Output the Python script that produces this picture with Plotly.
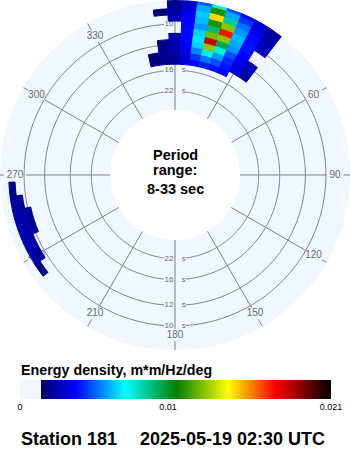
import math
import numpy as np
import plotly.graph_objects as go

# ---------------- data ----------------
period_range_s = [8, 33]                       # radial extent of the chart (seconds)
grid_periods_s = [10, 12, 16, 22]              # period rings
grid_period_labels = ["10", "12", "16", "22"]
spoke_directions = [0, 30, 60, 90, 120, 150, 180, 210, 240, 270, 300, 330]
spoke_labels = ["0", "30", "60", "90", "120", "150", "180", "210", "240", "270", "300", "330"]

freq_bin_width = 0.005     # Hz
dir_bin_width = 5          # degrees

# main swell system (north / north-east)
main_directions = [-10, -5, 0, 5, 10, 15, 20, 25, 30, 35]
main_freqs = [0.070, 0.075, 0.080, 0.085, 0.090, 0.095, 0.100, 0.105, 0.110, 0.115, 0.120]
main_energy = [
    [0.0018, 0.0020, 0.0022, 0.0030, 0.0038, 0.0042, 0.0040, 0.0037, 0.0000, 0.0000],
    [0.0017, 0.0021, 0.0024, 0.0031, 0.0045, 0.0053, 0.0048, 0.0040, 0.0032, 0.0024],
    [0.0000, 0.0020, 0.0025, 0.0035, 0.0055, 0.0075, 0.0058, 0.0043, 0.0034, 0.0026],
    [0.0000, 0.0019, 0.0026, 0.0037, 0.0065, 0.0125, 0.0075, 0.0048, 0.0037, 0.0027],
    [0.0000, 0.0000, 0.0025, 0.0039, 0.0068, 0.0180, 0.0095, 0.0057, 0.0038, 0.0000],
    [0.0000, 0.0000, 0.0000, 0.0039, 0.0065, 0.0122, 0.0125, 0.0060, 0.0040, 0.0000],
    [0.0000, 0.0000, 0.0000, 0.0038, 0.0058, 0.0090, 0.0170, 0.0062, 0.0040, 0.0028],
    [0.0000, 0.0000, 0.0026, 0.0037, 0.0062, 0.0110, 0.0125, 0.0058, 0.0039, 0.0027],
    [0.0000, 0.0017, 0.0025, 0.0035, 0.0064, 0.0145, 0.0085, 0.0053, 0.0036, 0.0025],
    [0.0000, 0.0000, 0.0022, 0.0030, 0.0060, 0.0110, 0.0060, 0.0045, 0.0032, 0.0023],
    [0.0000, 0.0000, 0.0020, 0.0027, 0.0050, 0.0075, 0.0048, 0.0038, 0.0029, 0.0021],
]

# small south-west system
sw_directions = [235, 240, 245, 250, 255, 260, 265]
sw_freqs = [0.100, 0.105, 0.110]
sw_energy = [
    [0.0000, 0.0000, 0.0000, 0.0022, 0.0021, 0.0000, 0.0000],
    [0.0000, 0.0022, 0.0025, 0.0026, 0.0025, 0.0022, 0.0000],
    [0.0019, 0.0024, 0.0026, 0.0026, 0.0025, 0.0023, 0.0019],
]

cb_min, cb_max = 0.0, 0.021
cb_tickvals = [0.0, 0.01, 0.021]
cb_ticktext = ["0", "0.01", "0.021"]

station = "Station 181"
timestamp = "2025-05-19 02:30 UTC"
colorbar_title = "Energy density, m*m/Hz/deg"
center_lines = ["Period", "range:", f"{period_range_s[0]}-{period_range_s[1]} sec"]

# ---------------- style / geometry ----------------
W, H = 350, 450
R = 175.0                 # canvas disc radius (px)
INNER_PX = 65.0           # inner hole radius (px)
REF_OUTER_PX = 181.7      # radius of the 8 s edge in the reference (px)
BG = "rgb(240,247,255)"
GRID = "#808080"
LABEL = "#6a6a6a"
FONT = "Liberation Sans, Arial, sans-serif"

f_in = 1.0 / period_range_s[1]
f_out = 1.0 / period_range_s[0]
px_per_hz = (REF_OUTER_PX - INNER_PX) / (f_out - f_in)
f_edge = f_in + (R - INNER_PX) / px_per_hz
hole = INNER_PX / R


def f_at_px(r):
    return f_in + (r - INNER_PX) / px_per_hz


def px_at_f(f):
    return INNER_PX + (f - f_in) * px_per_hz


colorscale = [
    [0.0, BG], [0.0675, BG],
    [0.0675, "rgb(0,0,100)"],
    [0.18, "rgb(0,0,255)"],
    [0.338, "rgb(0,255,255)"],
    [0.504, "rgb(0,128,0)"],
    [0.669, "rgb(255,255,0)"],
    [0.82, "rgb(255,0,0)"],
    [1.0, "rgb(0,0,0)"],
]

fig = go.Figure()

# ---- period rings (gaps where the labels sit at 0 and 180 deg) ----
ring_theta, ring_r = [], []
for T in grid_periods_s:
    f = 1.0 / T
    gap = math.degrees(11.0 / px_at_f(f))
    for a0, a1 in [(gap, 180 - gap), (180 + gap, 360 - gap)]:
        th = np.linspace(a0, a1, 200)
        ring_theta += list(th) + [None]
        ring_r += [f] * len(th) + [None]
fig.add_trace(go.Scatterpolar(theta=ring_theta, r=ring_r, mode="lines",
                              line=dict(color=GRID, width=1), hoverinfo="skip",
                              showlegend=False, subplot="polar"))

# ---- direction spokes (gap around each label) ----
LAB_PX = 160.0
FS_ANG = 10
sp_theta, sp_r = [], []
for a, lab in zip(spoke_directions, spoke_labels):
    hw = 0.556 * FS_ANG * len(lab) / 2 + 0.5
    hh = 3.6
    s, c = abs(math.sin(math.radians(a))), abs(math.cos(math.radians(a)))
    t = min(hw / s if s > 1e-6 else 1e9, hh / c if c > 1e-6 else 1e9) + 2.5
    sp_theta += [a, a, None, a, a, None]
    sp_r += [f_in, f_at_px(LAB_PX - t), None, f_at_px(LAB_PX + t), f_edge, None]
fig.add_trace(go.Scatterpolar(theta=sp_theta, r=sp_r, mode="lines",
                              line=dict(color=GRID, width=1), hoverinfo="skip",
                              showlegend=False, subplot="polar"))

# ---- direction labels ----
fig.add_trace(go.Scatterpolar(theta=spoke_directions, r=[f_at_px(LAB_PX)] * len(spoke_directions),
                              mode="text", text=spoke_labels, textposition="middle center",
                              textfont=dict(family=FONT, size=FS_ANG, color=LABEL),
                              hoverinfo="skip", showlegend=False, subplot="polar"))

# ---- period labels (number left of spoke, "s" right of spoke) ----
lab_theta, lab_r, lab_txt = [], [], []
for T, lab in zip(grid_periods_s, grid_period_labels):
    for a in (0, 180):
        lab_theta.append(a)
        lab_r.append(1.0 / T)
        lab_txt.append(lab)
fig.add_trace(go.Scatterpolar(theta=lab_theta, r=lab_r, mode="markers+text", text=lab_txt,
                              textposition="middle left",
                              marker=dict(size=1, color="rgba(0,0,0,0)"),
                              textfont=dict(family=FONT, size=8, color=LABEL),
                              hoverinfo="skip", showlegend=False, subplot="polar"))
fig.add_trace(go.Scatterpolar(theta=lab_theta, r=lab_r, mode="markers+text", text=["s"] * len(lab_r),
                              textposition="middle right",
                              marker=dict(size=9, color="rgba(0,0,0,0)"),
                              textfont=dict(family=FONT, size=8, color=LABEL),
                              hoverinfo="skip", showlegend=False, subplot="polar"))

# ---- energy cells (second, transparent polar on top of the grid) ----
cell_theta, cell_base, cell_len, cell_val = [], [], [], []
for dirs, freqs, energy in [(main_directions, main_freqs, main_energy),
                            (sw_directions, sw_freqs, sw_energy)]:
    for i, f in enumerate(freqs):
        for j, d in enumerate(dirs):
            v = energy[i][j]
            if v > 0:
                lo = f - freq_bin_width / 2
                hi = min(f + freq_bin_width / 2, f_edge)
                cell_theta.append(d)
                cell_base.append(lo)
                cell_len.append(hi - lo)
                cell_val.append(v)

cs_kw = dict(colorscale=colorscale, cmin=cb_min, cmax=cb_max)
fig.add_trace(go.Barpolar(
    theta=cell_theta, base=cell_base, r=cell_len,
    width=[dir_bin_width] * len(cell_val),
    marker=dict(color=cell_val, line=dict(color=cell_val, width=1, **cs_kw), showscale=True,
                colorbar=dict(orientation="h", x=20 / W, xanchor="left", y=1 - 380 / H, yanchor="top",
                              len=311, lenmode="pixels", thickness=19, thicknessmode="pixels",
                              xpad=0, ypad=0, outlinewidth=0, ticks="",
                              tickvals=cb_tickvals, ticktext=cb_ticktext,
                              tickfont=dict(family=FONT, size=9, color="black")),
                **cs_kw),
    hoverinfo="skip", showlegend=False, subplot="polar2"))

polar_common = dict(
    domain=dict(x=[0, 1], y=[1 - 2 * R / H, 1]),
    hole=hole,
    radialaxis=dict(range=[f_in, f_edge], visible=False, showgrid=False),
    angularaxis=dict(rotation=90, direction="clockwise", visible=False, showgrid=False),
)

annotations = []
for txt, y_mid in zip(center_lines, [155, 170, 189.3]):
    annotations.append(dict(text=f"<b>{txt}</b>", x=0.5, y=1 - y_mid / H, xref="paper", yref="paper",
                            xanchor="center", yanchor="middle", showarrow=False,
                            font=dict(family=FONT, size=14.5, color="black")))
annotations.append(dict(text=f"<b>{colorbar_title}</b>", x=19 / W, y=1 - 369.5 / H, xref="paper",
                        yref="paper", xanchor="left", yanchor="middle", showarrow=False,
                        font=dict(family=FONT, size=14.3, color="black")))
annotations.append(dict(text=f"<b>{station}</b>", x=19 / W, y=1 - 438.8 / H, xref="paper",
                        yref="paper", xanchor="left", yanchor="middle", showarrow=False,
                        font=dict(family=FONT, size=18, color="black")))
annotations.append(dict(text=f"<b>{timestamp}</b>", x=138 / W, y=1 - 438.8 / H, xref="paper",
                        yref="paper", xanchor="left", yanchor="middle", showarrow=False,
                        font=dict(family=FONT, size=18, color="black")))

fig.update_layout(
    width=W, height=H, margin=dict(l=0, r=0, t=0, b=0),
    paper_bgcolor="white", plot_bgcolor="white",
    polar=dict(bgcolor=BG, **polar_common),
    polar2=dict(bgcolor="rgba(0,0,0,0)", bargap=0, barmode="overlay", **polar_common),
    annotations=annotations,
    showlegend=False,
)

fig.write_html("out.html")
